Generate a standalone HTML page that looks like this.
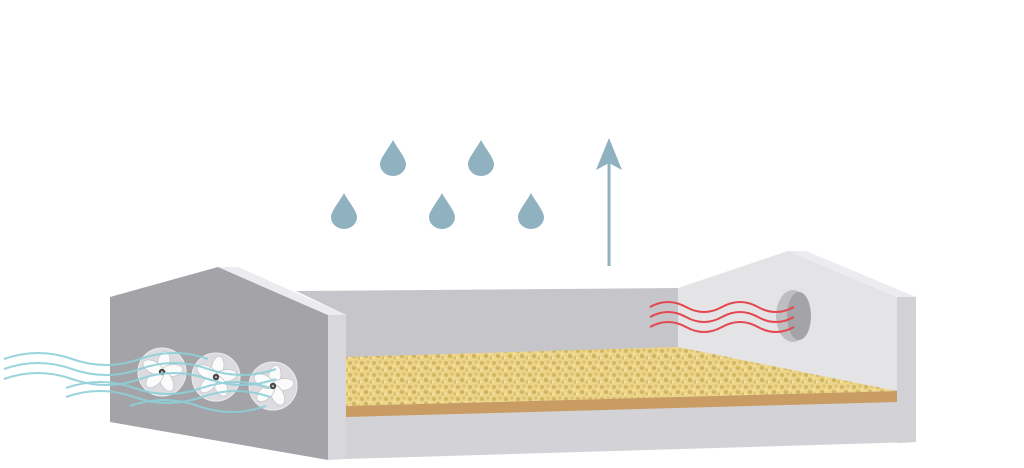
<!DOCTYPE html>
<html><head><meta charset="utf-8"><style>html,body{margin:0;padding:0;background:#fff}svg{display:block}</style></head>
<body>
<svg width="1024" height="468" viewBox="0 0 1024 468" xmlns="http://www.w3.org/2000/svg">
<defs>
<pattern id="g" width="12" height="12" patternUnits="userSpaceOnUse">
<rect width="12" height="12" fill="#ecd488"/>
<circle cx="2" cy="3" r="2" fill="#d3b663"/><circle cx="8" cy="2" r="1.5" fill="#d8bd6c"/>
<circle cx="6" cy="8" r="2.2" fill="#d1b460"/><circle cx="11" cy="10" r="1.6" fill="#d8bd6c"/>
<circle cx="1" cy="10" r="1.2" fill="#f5e2a0"/><circle cx="10" cy="6" r="1.2" fill="#f5e2a0"/>
</pattern>
<path id="d" d="M0,-18 C4,-10 13,0 13,6 A13,12 0 0 1 -13,6 C-13,0 -4,-10 0,-18 Z" fill="#8fb1c0"/>
<g id="fan">
<circle r="24" fill="#dcdce0" stroke="#ededf0" stroke-width="1"/>
<g fill="#fbfbfb" stroke="#c8c8cd" stroke-width="0.8">
<ellipse cx="0" cy="-10" rx="6" ry="11" transform="rotate(10)"/>
<ellipse cx="0" cy="-10" rx="6" ry="11" transform="rotate(82)"/>
<ellipse cx="0" cy="-10" rx="6" ry="11" transform="rotate(154)"/>
<ellipse cx="0" cy="-10" rx="6" ry="11" transform="rotate(226)"/>
<ellipse cx="0" cy="-10" rx="6" ry="11" transform="rotate(298)"/>
</g>
<circle r="3.2" fill="#444"/><circle r="1.3" fill="#aaa"/>
</g>
</defs>
<use href="#d" x="393" y="158"/><use href="#d" x="481" y="158"/>
<use href="#d" x="344" y="211"/><use href="#d" x="442" y="211"/><use href="#d" x="531" y="211"/>
<rect x="607.5" y="160" width="3" height="106" fill="#8fb1c0"/>
<polygon points="609,138 622,170 609,163 596,170" fill="#8fb1c0"/>
<polygon points="296,291 678,288 678,350 346,358 346,315" fill="#c6c6ca"/>
<polygon points="678,288 788,251 897,297 897,392 678,348" fill="#e4e4e7"/>
<polygon points="788,251 806,251 916,297 897,297" fill="#ececf0"/>
<polygon points="897,297 916,297 916,442 897,443" fill="#d2d1d5"/>
<polygon points="346,405 897,390 897,443 916,442 346,459" fill="#d3d2d6"/>
<polygon points="346,406 897,391 897,402 346,417" fill="#c89c62"/>
<polygon points="346,357 678,347 897,391 346,406" fill="url(#g)"/>
<ellipse cx="793" cy="316" rx="17" ry="26" fill="#bdbdc2"/>
<ellipse cx="799" cy="316" rx="12" ry="24" fill="#a4a3a8"/>
<g fill="none" stroke="#e5474f" stroke-width="2">
<path d="M650,307 q18,-10 36,0 t36,0 t36,0 t36,0"/>
<path d="M650,317 q18,-10 36,0 t36,0 t36,0 t36,0"/>
<path d="M650,327 q18,-10 36,0 t36,0 t36,0 t36,0"/>
</g>
<polygon points="110,297 218,267 328,315 328,460 110,422" fill="#a4a3a8"/>
<polygon points="218,267 238,267 346,315 328,315" fill="#ececf0"/>
<polygon points="328,315 346,315 346,459 328,460" fill="#d8d7dc"/>
<use href="#fan" x="162" y="372"/><use href="#fan" x="216" y="377"/><use href="#fan" x="273" y="386"/>
<g fill="none" stroke="#8ed0d8" stroke-width="2" opacity="0.9">
<path d="M4,359 q34,-12 68,0 t68,0 t68,0"/>
<path d="M4,369 q34,-12 68,0 t68,0 t68,0 t68,0"/>
<path d="M4,379 q34,-12 68,0 t68,0 t68,0 t68,0"/>
<path d="M66,388 q34,-12 68,0 t68,0 t68,0"/>
<path d="M66,397 q34,-12 68,0 t68,0 t68,0"/>
<path d="M130,406 q34,-12 68,0 t68,0"/>
</g>
</svg>
</body></html>
